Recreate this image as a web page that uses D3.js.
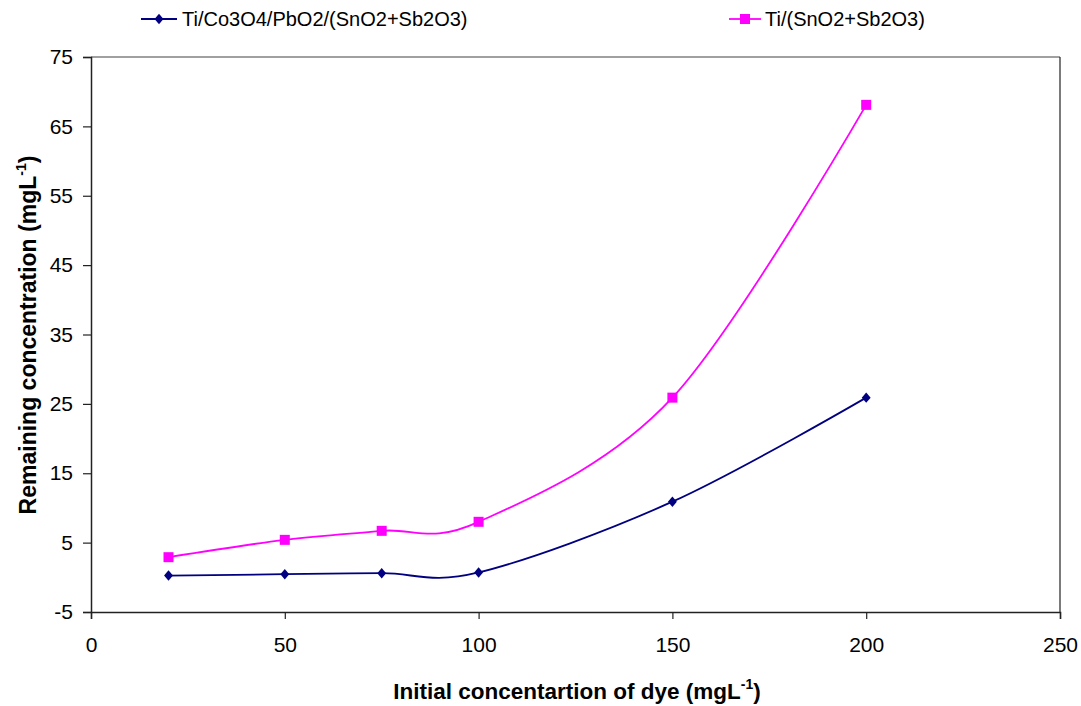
<!DOCTYPE html>
<html><head><meta charset="utf-8">
<script src="https://cdn.jsdelivr.net/npm/d3@7"></script>
<style>
body{margin:0;background:#fff;}
svg{display:block;font-family:"Liberation Sans",Arial,sans-serif;}
</style></head>
<body>
<svg id="c" width="1081" height="706"></svg>
<script>
const xValues = [20, 50, 75, 100, 150, 200];
const seriesNames = ["Ti/Co3O4/PbO2/(SnO2+Sb2O3)", "Ti/(SnO2+Sb2O3)"];
const seriesA = [0.25, 0.45, 0.6, 0.7, 10.9, 25.9];
const seriesB = [2.9, 5.4, 6.7, 8.0, 25.9, 68.1];
const xTicks = [0, 50, 100, 150, 200, 250];
const yTicks = [-5, 5, 15, 25, 35, 45, 55, 65, 75];
const colors = ["#000080", "#FF00FF"];

const svg = d3.select("#c");
const L = 91, R = 1060, T = 57, B = 612;
const x = d3.scaleLinear().domain([0, 250]).range([L, R]);
const y = d3.scaleLinear().domain([-5, 75]).range([B, T]);

// plot frame
svg.append("line").attr("x1", L).attr("x2", R).attr("y1", T).attr("y2", T).attr("stroke", "#808080").attr("stroke-width", 1.5);
svg.append("line").attr("x1", R).attr("x2", R).attr("y1", T).attr("y2", B).attr("stroke", "#222").attr("stroke-width", 1.2);

// axes
const gx = svg.append("g").attr("transform", `translate(0,${B})`)
  .call(d3.axisBottom(x).tickValues(xTicks).tickSize(7).tickPadding(18).tickFormat(d => String(d)));
const gy = svg.append("g").attr("transform", `translate(${L},0)`)
  .call(d3.axisLeft(y).tickValues(yTicks).tickSize(8).tickPadding(10).tickFormat(d => String(d)));
[gx, gy].forEach(g => {
  g.select(".domain").attr("stroke", "#222").attr("stroke-width", 1.5);
  g.selectAll(".tick line").attr("stroke", "#222").attr("stroke-width", 1.2);
  g.selectAll(".tick text").attr("font-size", 21).attr("fill", "#000").attr("font-family", "Liberation Sans, Arial, sans-serif");
});

// axis titles
const xt = svg.append("text").attr("x", 577).attr("y", 699).attr("text-anchor", "middle")
  .attr("font-size", 22.5).attr("font-weight", "bold");
xt.append("tspan").text("Initial concentartion of dye (mgL");
xt.append("tspan").text("-1").attr("font-size", 14).attr("dy", -10);
xt.append("tspan").text(")").attr("dy", 10);

const yt = svg.append("text").attr("transform", "translate(36,335) rotate(-90)").attr("text-anchor", "middle")
  .attr("font-size", 23).attr("font-weight", "bold");
yt.append("tspan").text("Remaining concentration (mgL");
yt.append("tspan").text("-1").attr("font-size", 14).attr("dy", -10);
yt.append("tspan").text(")").attr("dy", 10);

// lines
const line = d3.line().x((d, i) => x(xValues[i])).y(d => y(d)).curve(d3.curveCardinal.tension(0));
const allSeries = [seriesA, seriesB];
allSeries.forEach((s, k) => {
  svg.append("path").datum(s).attr("d", line).attr("fill", "none")
    .attr("stroke", colors[k]).attr("stroke-width", 1.8);
});
const diamond = d3.symbol().type(d3.symbolDiamond2).size(70);
svg.append("g").selectAll("path").data(seriesA).join("path")
  .attr("transform", (d, i) => `translate(${x(xValues[i])},${y(d)}) scale(0.85,1)`)
  .attr("d", diamond).attr("fill", colors[0]);
svg.append("g").selectAll("rect").data(seriesB).join("rect")
  .attr("x", (d, i) => x(xValues[i]) - 5).attr("y", d => y(d) - 5)
  .attr("width", 10).attr("height", 10).attr("fill", colors[1]);

// legend
const leg = [{x0: 141, x1: 177, tx: 182}, {x0: 729, x1: 761, tx: 765}];
const ly = 19;
seriesNames.forEach((n, k) => {
  const p = leg[k];
  svg.append("line").attr("x1", p.x0).attr("x2", p.x1).attr("y1", ly).attr("y2", ly)
    .attr("stroke", colors[k]).attr("stroke-width", 1.8);
  const cx = (p.x0 + p.x1) / 2;
  if (k === 0) {
    svg.append("path").attr("transform", `translate(${cx},${ly}) scale(0.85,1)`).attr("d", diamond).attr("fill", colors[0]);
  } else {
    svg.append("rect").attr("x", cx - 5).attr("y", ly - 5).attr("width", 10).attr("height", 10).attr("fill", colors[1]);
  }
  svg.append("text").attr("x", p.tx).attr("y", ly + 7).attr("font-size", 20).text(n);
});
</script>
</body></html>
